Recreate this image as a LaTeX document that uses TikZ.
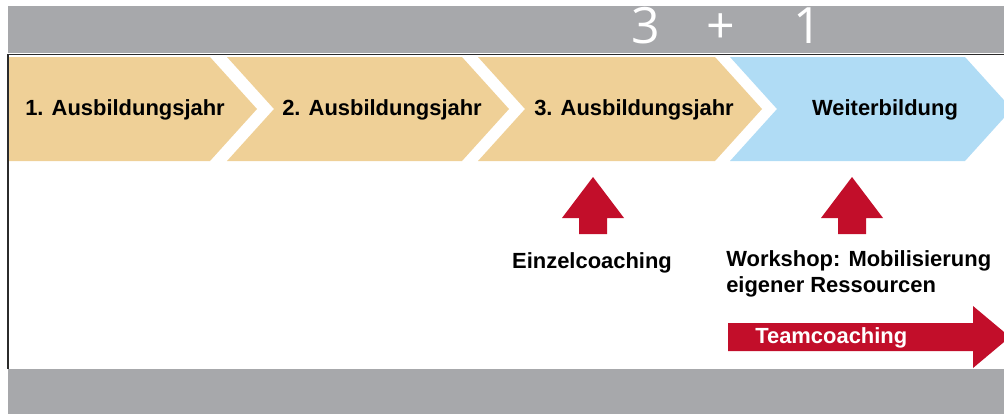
\documentclass[tikz,border=0pt]{standalone}
\usepackage{fontspec}
\setmainfont{Liberation Sans}
\newfontfamily\numfont{Open Sans}
\definecolor{stepTan}{HTML}{EFD097}
\definecolor{stepBlue}{HTML}{B0DCF5}
\definecolor{bandGray}{HTML}{A7A8AB}
\definecolor{coachRed}{HTML}{C20E2A}
\definecolor{frameDark}{HTML}{2B2B2B}
\def\chevron[#1](#2:#3){\fill[#1] (#2,57) -- (#3,57) -- ({#3+47},109) -- (#3,161) -- (#2,161) -- ({#2+47},109) -- cycle;}
\def\redup(#1,#2){\fill[coachRed] (#1,#2) -- ++(31,41) -- ++(-17,0) -- ++(0,16) -- ++(-28,0) -- ++(0,-16) -- ++(-17,0) -- cycle;}

\begin{document}
\begin{tikzpicture}[x=0.025cm, y=-0.025cm,
		steplabel/.style={anchor=base, inner sep=0pt, font=\fontsize{15.6pt}{18.5pt}\selectfont\bfseries},
		notelabel/.style={inner sep=0pt, align=left, font=\fontsize{15.6pt}{18.5pt}\selectfont\bfseries},
		bignum/.style={anchor=base, inner sep=0pt, text=white, font=\fontsize{35.6pt}{40pt}\selectfont\numfont}]
		%%%%% START %%%%%
		\useasboundingbox (0,0) rectangle (1004,414);
		\clip (0,0) rectangle (1004,414);
		
		\fill[bandGray] (8,6) rectangle (1004,53);
		\fill[bandGray] (8,369) rectangle (1004,414);
		\draw[line width=1.4pt, color=frameDark] (1004,54.5) -- (8,54.5) -- (8,369);
		
		\node[bignum] (three) at (646,43) {3};
		\node[bignum] (plus) at (721,43) {+};
		\node[bignum] (one) at (808,43) {1};
		
		\fill[stepTan] (9,57) -- (210,57) -- (257,109) -- (210,161) -- (9,161) -- cycle;
		\chevron[stepTan](227:462);
		\chevron[stepTan](478:715);
		\chevron[stepBlue](730:965);
		
		\node[steplabel] (year1) at (125,115) {1. Ausbildungsjahr};
		\node[steplabel] (year2) at (382,115) {2. Ausbildungsjahr};
		\node[steplabel] (year3) at (634,115) {3. Ausbildungsjahr};
		\node[steplabel] (further) at (885,115) {Weiterbildung};
		
		\redup(593,177);
		\redup(852,177);
		
		\node[notelabel, anchor=base] (single) at (592,268) {Einzelcoaching};
		\node[notelabel, anchor=north west] (workshop) at (726,250) {Workshop: Mobilisierung\\eigener Ressourcen};
		
		\fill[coachRed] (728,323) -- (973,323) -- (973,306) -- (1010,337) -- (973,368) -- (973,351) -- (728,351) -- cycle;
		\node[notelabel, anchor=base west, text=white] (team) at (755,343) {Teamcoaching};
		%%%%% END %%%%%
\end{tikzpicture}
\end{document}
